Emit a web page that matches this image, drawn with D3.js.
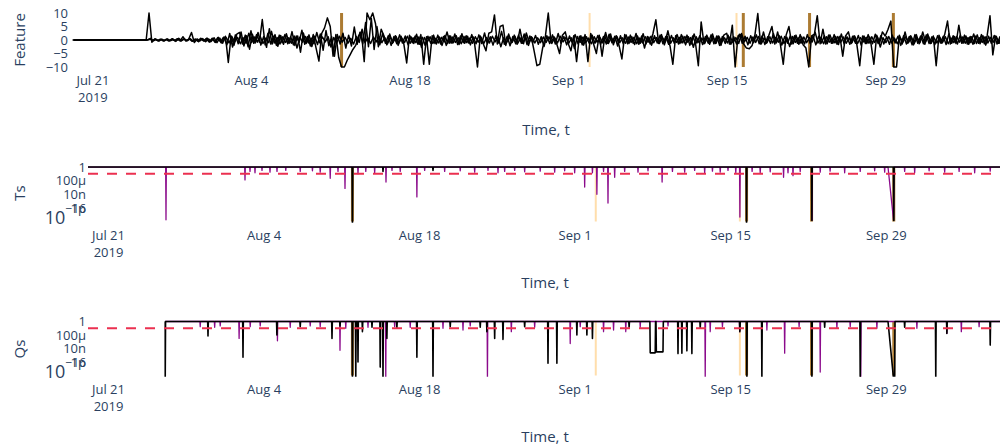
<!DOCTYPE html>
<html>
<head>
<meta charset="utf-8">
<script src="https://cdn.jsdelivr.net/npm/d3@7"></script>
<style>
  body { margin: 0; background: #fff; }
  svg text { font-family: "Open Sans", sans-serif; }
</style>
</head>
<body>
<svg id="chart" width="1000" height="447"></svg>
<script>
// ---- time axis -------------------------------------------------------------
const origin = Date.UTC(2019, 6, 21);            // day 0 = Jul 21 2019
const timeWindow = [-1.8, 81.9];                 // days shown
const xTickDates = ["2019-07-21", "2019-08-04", "2019-08-18", "2019-09-01", "2019-09-15", "2019-09-29"];
const xTickLabels = ["Jul 21", "Aug 4", "Aug 18", "Sep 1", "Sep 15", "Sep 29"];
const xTickYear = "2019";

// ---- feature signals, one sample every 6 h ------------------------------------
const featureStepDays = 0.25;
const featureAStartDay = -1.75;
const featureA = [
  0, 0, 0, 0, 0, 0, 0, 0, 0, 0,
  0, 0, 0, 0, 0, 0, 0, 0, 0, 0,
  0, 0, 0, 0, 0, 0, 0, 10, -0.8, 0.4,
  -0.2, 0.3, -0.3, 0.2, -0.4, 0.3, -0.2, 0.5, -0.3, 1.2,
  -0.4, 0.3, 2.8, -0.9, 0.4, -0.3, 0.5, -0.6, 0.4, -0.5,
  0.8, -1.0, 0.7, -1.2, 1.4, -8.3, 1.5, -2.0, 2.2, 2.8,
  -1.5, 1.8, -2.5, 3.4, -1.2, 2.0, -0.8, 7.6, -1.8, 2.5,
  -1.5, 1.4, -2.0, 1.8, -1.0, 2.0, -1.4, 1.2, -1.8, 1.5,
  -0.9, 3.6, -1.6, 1.3, -2.2, 2.0, -3.0, -7.8, 2.5, 4.5,
  8.2, 5.0, -6.0, 2.0, -6.5, -10, -10, -7.5, -5.5, -3.5,
  -2.0, 1.5, 3.0, -8.0, 10, 7.5, 10, 6.0, -2.5, 4.0,
  1.5, -1.8, 2.2, -1.2, 1.6, -2.0, 1.4, -1.5, -8.5, 1.8,
  -1.0, 1.5, -1.6, 2.0, -9.0, 1.2, -9.0, 1.6, -1.3, 1.8,
  -1.5, 1.3, -2.0, 1.6, -1.2, 2.2, -1.7, 1.5, -1.0, 1.6,
  -1.2, 2.0, -1.5, -10, 1.5, -1.3, -4.0, 2.5, 3.0, 9.3,
  -1.5, 5.0, 5.5, -2.0, 2.2, -1.0, 1.8, -1.6, 4.0, -1.2,
  1.5, -2.0, 1.2, -4.0, -9.5, -9.0, -3.0, 1.5, 10, -1.0,
  1.2, -1.5, -5.0, 1.8, 3.0, -1.2, -4.0, 1.6, -8.0, 1.4,
  -1.8, 2.0, -8.0, 2.4, -1.5, -5.0, 1.8, -6.0, 1.5, -1.2,
  2.2, -1.8, 1.6, -2.0, -7.0, 2.0, -1.4, 1.8, -1.2, 2.4,
  -1.6, 1.5, -3.0, 1.3, -1.5, 2.5, 7.5, -1.3, 2.0, -1.8,
  1.4, -2.2, -9.0, 1.6, -1.5, 2.0, -1.0, 1.8, -2.0, 1.5,
  -1.2, -9.5, 6.7, -1.4, 1.8, -1.6, 2.2, -1.3, 1.5, -2.0,
  1.8, 2.5, -1.5, 5.5, -10, 1.5, 2.0, -1.5, -3.0, -3.2,
  -2.0, 2.0, 9.8, -1.5, 3.0, -1.2, 2.0, 5.0, -1.5, 3.0,
  -1.8, -9.0, 1.8, 5.0, -1.5, 1.6, -1.2, 2.0, -1.8, -3.0,
  -10, 1.5, 2.2, 9.0, -1.4, 4.0, -1.5, 1.8, -1.2, 2.0,
  -1.6, 1.4, -6.0, 1.5, 3.0, -1.3, 1.6, -1.8, -9.5, 1.5,
  -1.3, 2.0, -1.5, -9.0, 1.8, -1.2, 3.0, 1.5, 4.0, 7.0,
  -10, -10, 1.8, -1.5, 3.0, -1.2, 1.6, -1.8, 2.0, -1.4,
  1.5, -1.6, 2.2, -1.3, 1.5, -9.5, 1.8, -1.2, 2.0, 7.0,
  -1.5, 1.6, -1.3, 5.5, -1.2, 1.8, -1.5, 1.3, -1.6, 1.5,
  -1.2, 2.0, -1.4, 1.6, 9.0, -5.5, 1.5, -1.2, 1.4, -1.0
];
const featureBStartDay = -1.625;
const featureB = [
  0, 0, 0, 0, 0, 0, 0, 0, 0, 0,
  0, 0, 0, 0, 0, 0, 0, 0, 0, 0,
  0, 0, 0, 0, 0, 0, 0,
  0.6, -0.3, 0.2, -0.4, 0.3, -0.2, 0.4, -0.3, 0.2, -0.5,
  0.6, -0.2, 0.4, -0.3, 0.5, -0.4, 0.3, -0.6, 0.5, -0.4,
  0.7, -0.8, 0.6, -0.9, 1.0, -1.1, 0.9,
  -1.8, 2.4, -2.6, 1.9, -1.4, 3.0, -2.2, 1.6, -3.4, 2.1,
  -1.1, 2.8, -1.9, 1.3, -2.7, 4.2, -1.5, 2.0, -2.3, 1.7,
  -1.6, 2.3, -1.2, 3.1, -2.0, 1.5, -4.5, 2.6, -1.3, 1.9,
  -2.4, 1.4, -1.7, 2.2, -3.8, 3.5, -2.1, 1.2, -6.0, 2.0,
  -1.5, 2.5, -3.0, 1.8, -2.2, 4.8, -1.6, 2.9, -1.4, 6.5,
  -2.5, 8.0, -3.5, 5.0, -1.8, 2.4, -1.2, 1.6, -2.0, 1.3,
  -1.4, 1.9, -1.1, 1.5, -1.8, 1.2, -1.3, 2.1, -1.6, 1.0,
  -1.9, 1.4, -1.2, 1.8, -1.5, 1.1, -2.0, 1.7, -1.3, 1.5,
  -1.0, 1.6, -1.7, 2.3, -1.2, 1.4, -1.8, 1.1, -1.4, 1.9,
  -1.3, 2.6, -1.5, 1.2, -1.9, 1.6, -1.1, 3.2, -1.6, 1.4,
  -2.1, 1.3, -1.4, 1.8, -1.2, 2.2, -1.7, 1.5, -1.0, 1.7,
  -1.6, 1.2, -2.4, 1.6, -1.3, 1.9, -1.5, 2.4, -1.2, 1.3,
  -1.8, 1.5, -1.1, 2.0, -1.4, 1.6, -1.9, 1.2, -1.3, 1.8,
  -1.2, 1.7, -1.6, 1.3, -1.5, 2.1, -1.0, 1.4, -2.2, 1.6,
  -1.4, 1.9, -1.3, 1.2, -1.7, 1.5, -1.2, 2.3, -1.5, 1.1,
  -1.9, 1.6, -1.1, 1.8, -1.4, 1.3, -1.6, 1.7, -1.2, 2.0,
  -1.3, 1.4, -1.8, 1.2, -1.5, 2.2, -1.1, 1.6, -1.7, 1.3,
  -1.2, 1.9, -1.4, 1.5, -2.0, 1.3, -1.3, 1.8, -1.6, 1.2,
  -1.5, 2.1, -1.2, 1.4, -1.8, 1.6, -1.0, 1.9, -1.4, 1.5,
  -1.7, 1.2, -1.3, 2.4, -1.1, 1.7, -1.9, 1.3, -1.2, 1.6,
  -1.4, 1.8, -1.6, 1.1, -1.5, 2.0, -1.3, 1.5, -1.8, 1.4,
  -1.1, 1.6, -1.4, 1.9, -1.2, 1.3, -1.7, 2.2, -1.5, 1.2,
  -1.6, 1.4, -1.2, 1.7, -1.9, 1.5, -1.3, 1.1, -1.4, 2.1,
  -1.3, 1.7, -1.5, 1.2, -1.6, 1.8, -1.1, 1.4, -2.0, 1.6,
  -1.5, 1.3, -1.8, 2.0, -1.2, 1.5, -1.4, 1.9, -1.3, 1.2,
  -1.8, 1.6, -1.1, 1.4, -1.7, 2.3, -1.2, 1.3, -1.5, 1.8,
  -1.2, 1.5, -1.6, 1.2, -1.3, 1.9, -1.4, 1.6, -1.9, 1.4,
  -1.3, 1.7, -1.5, 1.2, -1.4, 1.1
];
const featureCStartDay = -1.6875;
const featureC = [
  0, 0, 0, 0, 0, 0, 0, 0, 0, 0,
  0, 0, 0, 0, 0, 0, 0, 0, 0, 0,
  0, 0, 0, 0, 0, 0, 0,
  0.3, -0.2, 0.4, -0.3, 0.2, -0.4, 0.3, -0.2, 0.5, -0.3,
  0.2, -0.4, 0.3, -0.2, 0.4, -0.5, 0.3, -0.4, 0.6, -0.3,
  0.5, -0.7, 0.6, -0.8, 0.9, -0.7, 1.0,
  0.9, -1.1, 1.3, -0.7, 1.0, -1.4, 0.8, -1.2, 2.5, -0.9,
  1.1, -0.8, 1.4, -1.3, 0.7, -1.0, 3.2, -1.1, 0.9, -1.5,
  1.2, -0.9, 0.8, -1.2, 1.5, -3.0, 1.0, -0.8, 1.3, -1.1,
  0.7, -1.4, 2.8, -1.0, 1.1, -0.7, 1.2, -2.6, 0.9, -1.3,
  1.4, -0.8, 1.0, -1.2, 0.6, -1.5, 1.3, -0.9, 4.0, -1.0,
  0.8, -1.3, 1.1, -0.7, 1.2, -1.0, 0.9, -1.4, 1.0, -0.8,
  1.3, -1.1, 0.7, -0.9, 1.4, -1.2, 0.8, -1.0, 1.1, -2.8,
  0.9, -0.8, 1.2, -1.3, 0.6, -1.1, 1.0, -0.7, 3.0, -1.2,
  1.1, -0.9, 0.8, -1.4, 1.3, -1.0, 0.7, -1.2, 1.2, -0.8,
  1.0, -1.3, 0.9, -1.1, 1.4, -0.7, 1.1, -2.5, 0.8, -1.0,
  1.2, -0.9, 1.3, -1.2, 0.7, -1.4, 2.6, -0.8, 1.0, -1.1,
  0.8, -1.0, 1.1, -0.9, 1.2, -1.3, 0.9, -1.1, 1.4, -0.7,
  1.0, -1.2, 0.8, -3.2, 1.3, -0.9, 1.1, -1.0, 0.7, -1.4,
  1.2, -0.8, 1.0, -1.1, 2.8, -1.3, 0.9, -0.7, 1.3, -1.0,
  0.8, -1.2, 1.1, -0.9, 1.0, -1.4, 0.7, -1.1, 1.2, -0.8,
  1.4, -1.0, 0.9, -1.3, 1.1, -0.7, 3.4, -1.2, 0.8, -0.9,
  1.0, -1.1, 1.3, -0.8, 0.9, -2.7, 1.2, -1.0, 0.7, -1.3,
  1.1, -0.9, 1.0, -1.2, 1.4, -0.8, 0.8, -1.1, 1.2, -1.0,
  0.9, -1.3, 2.4, -0.7, 1.0, -1.2, 1.1, -0.9, 1.3, -1.4,
  0.7, -1.0, 1.2, -1.1, 0.9, -0.8, 1.4, -1.3, 1.0, -2.4,
  1.3, -0.9, 0.8, -1.2, 1.1, -1.0, 0.9, -0.7, 2.9, -1.1,
  1.0, -1.4, 1.2, -0.8, 0.7, -1.1, 1.3, -0.9, 1.1, -1.2,
  0.8, -1.0, 1.4, -1.3, 0.9, -0.7, 1.0, -1.2, 1.2, -0.9,
  1.1, -2.6, 0.8, -1.0, 1.3, -1.1, 0.7, -1.4, 1.0, -0.8,
  1.2, -0.9, 1.1, -1.3, 0.9, -1.0, 3.0, -0.7, 1.4, -1.2,
  0.8, -1.1, 1.0, -0.9, 1.2, -1.4, 0.7, -1.0, 1.3, -0.8,
  1.1, -1.2, 0.9, -1.0, 2.2, -1.3, 0.8, -0.9, 1.2, -1.1,
  1.0, -0.8, 1.3, -1.2, 0.9, -1.0
];
const featureTicks = [10, 5, 0, -5, -10];
const featureTickLabels = ["10", "5", "0", "\u22125", "\u221210"];

// ---- marked anomaly windows (day) ------------------------------------------
const eventDays = [22.0, 43.9, 56.87, 57.47, 63.32, 70.72];
const eventMajor = [true, false, false, true, true, true];

// ---- p-value panels: log ticks and threshold ---------------------------------
const pTicks = [1, 1e-4, 1e-8, 1e-12, 1e-16];
const pTickLabels = ["1", "100\u03bc", "10n", "1p", "10^\u221216"];
const threshold = 0.01;

// each dip: [day, value, hold (days at value), lead (days of descent)]
const tsSpan = [-1.8, 81.9];
const tsPurpleDips = [
  [5.22, 3e-16], [12.33, 1.6e-4], [12.78, 0.05], [13.23, 0.02], [13.86, 0.1], [14.58, 0.03],
  [15.21, 0.05], [16.0, 0.1], [17.3, 0.05], [18.4, 0.08], [19.1, 0.03], [20.0, 5e-4],
  [20.7, 0.05], [21.33, 5e-7], [22.5, 0.01], [23.2, 0.05], [24.0, 0.02], [25.02, 4e-5],
  [25.56, 0.1], [26.3, 0.05], [27.8, 1.6e-9], [28.5, 0.1], [30.3, 0.05], [31.7, 0.08],
  [33.0, 0.03], [34.2, 0.1], [35.1, 0.02], [35.7, 0.05], [36.6, 0.1], [37.5, 0.04],
  [38.9, 0.06], [40.2, 0.03], [41.1, 0.08], [42.0, 0.02], [42.9, 1.3e-6], [43.6, 0.02],
  [44.0, 1e-8], [44.6, 0.05], [45.0, 2.5e-11], [45.6, 1e-3], [46.5, 0.05], [47.7, 0.03],
  [48.6, 0.08], [49.87, 4e-5], [50.8, 0.05], [51.9, 0.03], [52.8, 0.1], [53.7, 0.02],
  [54.4, 0.06], [55.1, 0.03], [55.8, 0.1], [56.5, 0.02], [56.87, 2e-15], [57.97, 0.05],
  [58.7, 0.02], [59.6, 0.04], [60.8, 1e-3], [61.2, 0.02], [61.65, 3e-3], [62.3, 0.05],
  [63.37, 2.5e-16], [64.1, 0.03], [64.99, 0.06], [66.3, 0.02], [67.7, 0.05], [69.0, 0.08],
  [69.9, 0.03], [70.7, 2.5e-16, 0, 0.5], [71.7, 0.05], [72.6, 0.02], [73.9, 0.08], [75.3, 0.03],
  [76.6, 0.05], [78.0, 0.02], [79.4, 0.06]
];
const tsBlackDips = [
  [22.0, 3e-17], [24.75, 0.05], [29.25, 0.1], [57.47, 3e-17], [63.35, 2e-16], [70.72, 2e-16]
];

const qsSpan = [5.15, 81.9];
const qsBlackDips = [
  [5.15, 1e-17, 0, 0], [9.0, 5e-5], [12.15, 2.5e-11], [15.2, 1e-4], [17.3, 0.03], [20.16, 1e-5],
  [20.88, 0.05], [22.0, 1e-17], [22.3, 1e-17], [22.5, 1e-12], [22.9, 1e-3], [23.76, 0.02],
  [24.5, 3e-14], [24.75, 1e-17], [25.1, 1e-5], [26.0, 0.01], [27.8, 2.5e-11], [29.25, 1e-17],
  [30.8, 0.03], [33.5, 0.02], [34.1, 1e-3], [34.8, 1e-5], [35.55, 5e-6], [37.5, 0.03],
  [39.6, 4e-13], [40.4, 4e-13], [42.2, 1e-4], [43.1, 1e-4], [43.6, 1e-5], [46.9, 0.02],
  [48.8, 5e-10, 0.45], [49.35, 1e-9, 0.6], [51.3, 3e-10], [51.65, 4e-10], [52.1, 2e-9],
  [52.55, 3e-10], [53.3, 0.01], [56.87, 1e-3], [57.5, 1e-17], [58.85, 1e-17], [63.35, 1e-17],
  [64.5, 0.02], [67.7, 1e-17], [70.7, 1e-17, 0.1, 0.5], [71.7, 0.02], [74.5, 1e-17],
  [75.5, 3e-4], [79.4, 1e-7]
];
const qsPurpleDips = [
  [8.3, 0.03], [9.6, 0.02], [10.1, 0.05], [11.8, 1e-5], [12.8, 0.03], [13.7, 0.05],
  [15.25, 2e-6], [16.4, 0.02], [18.2, 0.05], [19.1, 0.03], [20.88, 3e-9], [21.4, 0.01],
  [23.4, 0.02], [25.0, 1e-17], [25.8, 0.03], [27.2, 0.02], [30.15, 0.01], [31.95, 3e-3],
  [32.6, 0.05], [34.15, 1e-17], [36.3, 1e-3], [38.4, 0.02], [41.6, 3e-7], [42.5, 0.03],
  [44.6, 1e-3], [45.5, 3e-3], [46.6, 1e-3], [47.9, 0.02], [50.4, 0.05], [53.75, 1e-17],
  [54.2, 1e-3], [55.3, 0.03], [56.85, 1e-3], [59.3, 3e-3], [60.9, 4e-10], [62.2, 0.03],
  [64.1, 1e-15], [65.6, 0.01], [66.8, 0.03], [67.75, 1e-17], [69.2, 0.01], [72.8, 0.01],
  [75.5, 3e-4], [76.8, 1e-3], [78.4, 0.03]
];

// ---- drawing -------------------------------------------------------------------
const INK = "#2a3f5f";
const svg = d3.select("#chart");
const dayToDate = d => new Date(origin + d * 864e5);
const tickDates = xTickDates.map(s => new Date(s + "T00:00:00Z"));

function spikeSeries(span, dips) {
  const pts = [[span[0], 1]];
  dips.slice().sort((a, b) => a[0] - b[0]).forEach(([day, v, hold = 0, lead = 0.03]) => {
    pts.push([day - lead, 1], [day, v]);
    if (hold > 0) pts.push([day + hold, v]);
    pts.push([day + hold + 0.03, 1]);
  });
  pts.push([span[1], 1]);
  return pts;
}

function timeAxis(g, x, y, titleY, titleX) {
  const ax = g.append("g")
    .attr("transform", `translate(0,${y})`)
    .call(d3.axisBottom(x).tickValues(tickDates).tickSize(0).tickPadding(0)
      .tickFormat((d, i) => xTickLabels[i]));
  ax.select(".domain").remove();
  ax.attr("font-size", 13).attr("font-family", null).style("color", INK);
  ax.selectAll(".tick text").filter((d, i) => i === 0)
    .append("tspan").attr("x", 0).attr("dy", "1.3em").text(xTickYear);
  g.append("text").attr("x", titleX).attr("y", titleY)
    .attr("text-anchor", "middle").attr("font-size", 15).attr("fill", INK).text("Time, t");
}

function yTitle(g, label, cy) {
  g.append("text").attr("transform", `translate(25,${cy}) rotate(-90)`)
    .attr("text-anchor", "middle").attr("font-size", 15).attr("fill", INK).text(label);
}

function clipFor(id, x0, x1, y0, y1) {
  svg.append("clipPath").attr("id", id).append("rect")
    .attr("x", x0).attr("y", y0).attr("width", x1 - x0).attr("height", y1 - y0);
  return `url(#${id})`;
}

function eventLines(g, x, yTop, yBot) {
  eventDays.forEach((d, i) => {
    const px = x(dayToDate(d));
    g.append("line").attr("x1", px).attr("x2", px).attr("y1", yTop).attr("y2", yBot)
      .attr("stroke", eventMajor[i] ? "#a36d1c" : "#ffd89e")
      .attr("stroke-width", eventMajor[i] ? 3 : 2)
      .attr("stroke-opacity", eventMajor[i] ? 0.9 : 0.85);
  });
}

// ---- panel 1: feature --------------------------------------------------------
{
  const L = 72, R = 1020, T = 13, B = 67;
  const x = d3.scaleUtc().domain(timeWindow.map(dayToDate)).range([L, R]);
  const y = d3.scaleLinear().domain([-10, 10]).range([B, T]);
  const g = svg.append("g");
  const plot = g.append("g").attr("clip-path", clipFor("clipF", L, R, T - 1, B + 1));
  eventLines(plot, x, y(10), y(-10));
  [[featureC, featureCStartDay], [featureB, featureBStartDay], [featureA, featureAStartDay]]
    .forEach(([vals, start]) => {
      const line = d3.line()
        .x((v, i) => x(dayToDate(start + i * featureStepDays)))
        .y(v => y(v));
      plot.append("path").datum(vals).attr("d", line)
        .attr("fill", "none").attr("stroke", "#000").attr("stroke-width", 1.5)
        .attr("stroke-linejoin", "round");
    });
  const ay = g.append("g").attr("transform", `translate(${L},0)`)
    .call(d3.axisLeft(y).tickValues(featureTicks).tickSize(0).tickPadding(4)
      .tickFormat((d, i) => featureTickLabels[i]));
  ay.select(".domain").remove();
  ay.attr("font-size", 13).attr("font-family", null).style("color", INK);
  yTitle(g, "Feature", 40);
  timeAxis(g, x, 76, 135, 546);
}

// ---- panels 2 and 3: Ts and Qs -----------------------------------------------
function pPanel(id, label, top, pxPerDecade, span, purpleDips, blackDips, labelY, titleY, yTitleCy) {
  const L = 88, R = 1018;
  const T = top, B = top + 17 * pxPerDecade;
  const x = d3.scaleUtc().domain(timeWindow.map(dayToDate)).range([L, R]);
  const y = d3.scaleLog().domain([Math.pow(10, -16.4), Math.pow(10, 0.6)]).range([B, T]);
  const g = svg.append("g");
  const plot = g.append("g").attr("clip-path", clipFor(id, L, R, T, B));
  eventLines(plot, x, y(1), y(1e-16));
  const line = d3.line().x(p => x(dayToDate(p[0]))).y(p => y(p[1]));
  plot.append("path").datum(spikeSeries(span, purpleDips)).attr("d", line)
    .attr("fill", "none").attr("stroke", "#8b0a8b").attr("stroke-width", 1.3)
    .attr("stroke-linejoin", "round");
  plot.append("path").datum(spikeSeries(span, blackDips)).attr("d", line)
    .attr("fill", "none").attr("stroke", "#000").attr("stroke-width", 1.6)
    .attr("stroke-linejoin", "round");
  plot.append("line").attr("x1", L).attr("x2", R).attr("y1", y(threshold)).attr("y2", y(threshold))
    .attr("stroke", "#eb3050").attr("stroke-width", 2).attr("stroke-dasharray", "10,9");

  const ay = g.append("g").attr("transform", `translate(${L},0)`)
    .call(d3.axisLeft(y).tickValues(pTicks).tickSize(0).tickPadding(2)
      .tickFormat((d, i) => pTickLabels[i]));
  ay.select(".domain").remove();
  ay.attr("font-size", 13).attr("font-family", null).style("color", INK);
  ay.selectAll(".tick text").each(function (d, i) {
    const lab = pTickLabels[i];
    if (!lab.includes("^")) return;
    const [base, exp] = lab.split("^");
    const t = d3.select(this).text(null);
    t.append("tspan").attr("font-size", 18).attr("dy", "2").text(base);
    t.append("tspan").attr("font-size", 12).attr("dy", "-11").text(exp);
  });
  yTitle(g, label, yTitleCy);
  timeAxis(g, x, labelY, titleY, 545);
}

pPanel("clipT", "Ts", 165, 3.4, tsSpan, tsPurpleDips, tsBlackDips, 230.5, 288, 193);
pPanel("clipQ", "Qs", 319.5, 3.37, qsSpan, qsPurpleDips, qsBlackDips, 384.5, 442, 349);
</script>
</body>
</html>
